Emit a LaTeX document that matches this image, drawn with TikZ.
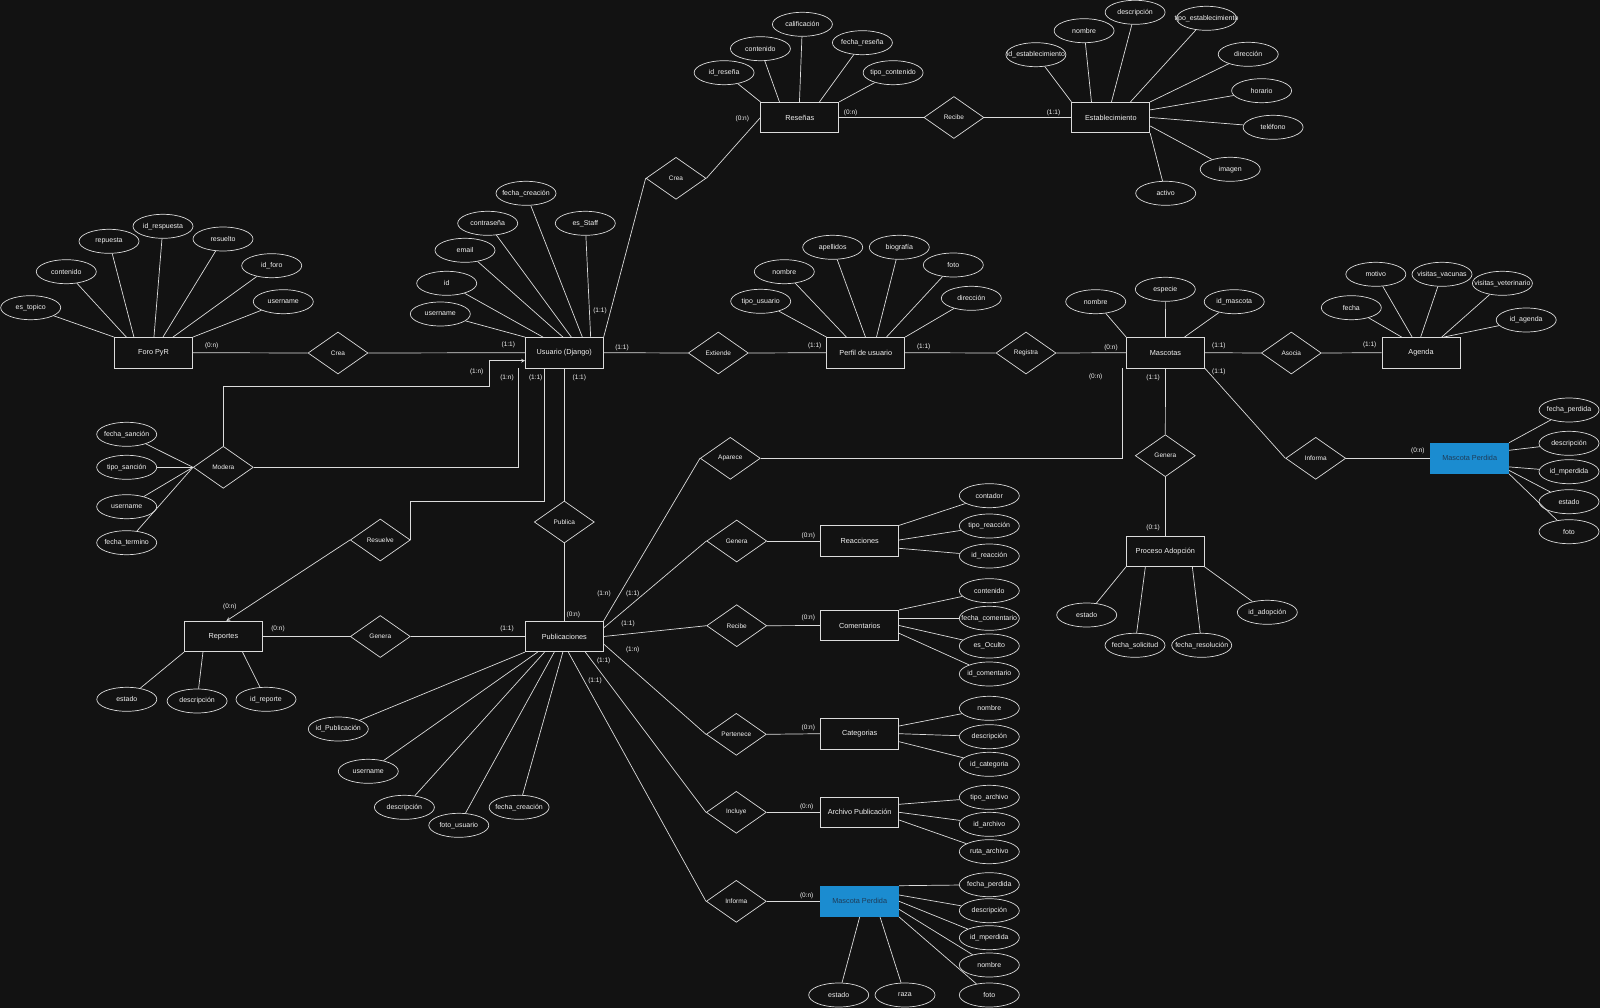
\documentclass[tikz,border=0pt]{standalone}
\usepackage{fontspec}
\setmainfont{Liberation Sans}
\usepackage{tikz}
\usepackage{xcolor}
\usetikzlibrary{shapes.geometric}
\definecolor{fondo}{HTML}{121212}
\definecolor{linea}{HTML}{DCDCDC}
\definecolor{texto}{HTML}{F2F2F2}
\definecolor{azul}{HTML}{1B8CD0}
\definecolor{azultxt}{HTML}{1E3B57}
\tikzstyle{entidad} = [rectangle, draw=linea, fill=fondo, text=texto, minimum width=78pt, minimum height=30.5pt, inner sep=1pt, font=\fontsize{7.3}{8}\selectfont]
\tikzstyle{perdida} = [entidad, fill=azul, draw=azul, text=azultxt]
\tikzstyle{atrib} = [ellipse, draw=linea, fill=fondo, text=texto, minimum width=60pt, minimum height=24pt, inner xsep=-12pt, inner ysep=0pt, font=\fontsize{7}{8}\selectfont]
\tikzstyle{rel} = [diamond, draw=linea, fill=fondo, text=texto, minimum width=60pt, minimum height=42pt, inner sep=0pt, font=\fontsize{6.5}{7}\selectfont]
\tikzstyle{card} = [text=texto, inner sep=0pt, font=\fontsize{6.5}{7}\selectfont]

\begin{document}
\begin{tikzpicture}[x=1pt,y=-1pt,>=stealth,color=linea,line width=0.7pt]
  \fill[fondo] (0,0) rectangle (1600,1008);
  \useasboundingbox (0,0) rectangle (1600,1008);

  \node[entidad] (Foro) at (153.5,352.7) {Foro PyR};
  \node[entidad] (Usuario) at (564.3,352.7) {Usuario (Django)};
  \node[entidad] (Perfil) at (865.8,352.7) {Perfil de usuario};
  \node[entidad] (Mascotas) at (1165.5,352.7) {Mascotas};
  \node[entidad] (Agenda) at (1421,352.7) {Agenda};
  \node[entidad] (Resenas) at (799.8,117.5) {Reseñas};
  \node[entidad] (Establ) at (1110.8,117.5) {Establecimiento};
  \node[perdida] (MPerdidaA) at (1469.7,458.3) {Mascota Perdida};
  \node[entidad] (Adopcion) at (1165.3,551.3) {Proceso Adopción};
  \node[entidad] (Reportes) at (223.4,636.5) {Reportes};
  \node[entidad] (Publicaciones) at (564.3,636.5) {Publicaciones};
  \node[entidad] (Reacciones) at (859.7,541) {Reacciones};
  \node[entidad] (Comentarios) at (859.7,625.5) {Comentarios};
  \node[entidad] (Categorias) at (859.7,733.7) {Categorias};
  \node[entidad] (Archivo) at (859.7,812.3) {Archivo Publicación};
  \node[perdida] (MPerdidaB) at (859.7,901.3) {Mascota Perdida};

  \node[rel] (CreaF) at (338,353) {Crea};
  \node[rel] (Modera) at (223.3,467.3) {Modera};
  \node[rel] (CreaR) at (676,178.3) {Crea};
  \node[rel] (RecibeE) at (953.9,117.5) {Recibe};
  \node[rel] (Extiende) at (718.3,353) {Extiende};
  \node[rel] (Registra) at (1026,353) {Registra};
  \node[rel] (Asocia) at (1291.3,353) {Asocia};
  \node[rel] (GeneraA) at (1165.3,455.7) {Genera};
  \node[rel] (InformaA) at (1315.7,458.3) {Informa};
  \node[rel] (Aparece) at (730.3,458.3) {Aparece};
  \node[rel] (GeneraR) at (736.7,541) {Genera};
  \node[rel] (RecibeC) at (736.7,625.7) {Recibe};
  \node[rel] (Pertenece) at (736.3,734.3) {Pertenece};
  \node[rel] (Incluye) at (736.3,812.3) {Incluye};
  \node[rel] (InformaB) at (736.3,901.3) {Informa};
  \node[rel] (Publica) at (564.3,522) {Publica};
  \node[rel] (Resuelve) at (380.3,540) {Resuelve};
  \node[rel] (GeneraP) at (380.3,636.5) {Genera};

  \node[atrib] (Fo_estopico) at (30.7,307.7) {es\_topico};
  \node[atrib] (Fo_contenido) at (66.3,271.7) {contenido};
  \node[atrib] (Fo_repuesta) at (109,241.3) {repuesta};
  \node[atrib] (Fo_idresp) at (163,226.3) {id\_respuesta};
  \node[atrib] (Fo_resuelto) at (223,239) {resuelto};
  \node[atrib] (Fo_idforo) at (271.7,265.7) {id\_foro};
  \node[atrib] (Fo_username) at (283.3,301.7) {username};

  \node[atrib] (Mo_fsancion) at (126.7,434.3) {fecha\_sanción};
  \node[atrib] (Mo_tsancion) at (126.7,467.3) {tipo\_sanción};
  \node[atrib] (Mo_username) at (126.7,506.7) {username};
  \node[atrib] (Mo_ftermino) at (126.7,542.7) {fecha\_termino};

  \node[atrib] (Us_username) at (440.3,314) {username};
  \node[atrib] (Us_id) at (446.7,283.3) {id};
  \node[atrib] (Us_email) at (465,250.3) {email};
  \node[atrib] (Us_clave) at (487.7,223.3) {contraseña};
  \node[atrib] (Us_fcreacion) at (526,193.3) {fecha\_creación};
  \node[atrib] (Us_staff) at (585.3,223.3) {es\_Staff};

  \node[atrib] (Pe_tipo) at (760.7,301.3) {tipo\_usuario};
  \node[atrib] (Pe_nombre) at (784.3,271.7) {nombre};
  \node[atrib] (Pe_apellidos) at (832.7,247.3) {apellidos};
  \node[atrib] (Pe_biografia) at (899.3,247.3) {biografía};
  \node[atrib] (Pe_foto) at (953.3,265) {foto};
  \node[atrib] (Pe_direccion) at (971.3,298.3) {dirección};

  \node[atrib] (Re_id) at (724.1,72.7) {id\_reseña};
  \node[atrib] (Re_contenido) at (760.4,48.7) {contenido};
  \node[atrib] (Re_calif) at (802.4,24.3) {calificación};
  \node[atrib] (Re_fecha) at (862.4,42.7) {fecha\_reseña};
  \node[atrib] (Re_tipo) at (893.1,72.7) {tipo\_contenido};

  \node[atrib] (Es_id) at (1035.9,54.7) {id\_establecimiento};
  \node[atrib] (Es_nombre) at (1084.1,30.7) {nombre};
  \node[atrib] (Es_desc) at (1135.1,12.3) {descripción};
  \node[atrib] (Es_tipo) at (1206.5,18.3) {tipo\_establecimiento};
  \node[atrib] (Es_direccion) at (1248.2,54.3) {dirección};
  \node[atrib] (Es_horario) at (1261.6,90.7) {horario};
  \node[atrib] (Es_telefono) at (1273.1,127.3) {teléfono};
  \node[atrib] (Es_imagen) at (1230.2,169.3) {imagen};
  \node[atrib] (Es_activo) at (1165.7,193.3) {activo};

  \node[atrib] (Ma_nombre) at (1095.7,301.7) {nombre};
  \node[atrib] (Ma_especie) at (1165.3,289.3) {especie};
  \node[atrib] (Ma_id) at (1234.2,301.7) {id\_mascota};

  \node[atrib] (Ag_fecha) at (1351.3,307.7) {fecha};
  \node[atrib] (Ag_motivo) at (1375.8,274.3) {motivo};
  \node[atrib] (Ag_vacunas) at (1442,274.3) {visitas\_vacunas};
  \node[atrib] (Ag_veter) at (1502.4,283.3) {visitas\_veterinario};
  \node[atrib] (Ag_id) at (1526.2,320) {id\_agenda};

  \node[atrib] (MA_fecha) at (1569,410) {fecha\_perdida};
  \node[atrib] (MA_desc) at (1569,443.3) {descripción};
  \node[atrib] (MA_id) at (1569,471.7) {id\_mperdida};
  \node[atrib] (MA_estado) at (1569,501.7) {estado};
  \node[atrib] (MA_foto) at (1569,531.7) {foto};

  \node[atrib] (PA_estado) at (1086.7,615) {estado};
  \node[atrib] (PA_fsolic) at (1135,645.3) {fecha\_solicitud};
  \node[atrib] (PA_fresol) at (1201.7,645.3) {fecha\_resolución};
  \node[atrib] (PA_id) at (1267.3,612.3) {id\_adopción};

  \node[atrib] (Rc_contador) at (989.3,495.7) {contador};
  \node[atrib] (Rc_tipo) at (989.3,526) {tipo\_reacción};
  \node[atrib] (Rc_id) at (989.3,556) {id\_reacción};

  \node[atrib] (Co_contenido) at (989.3,590.7) {contenido};
  \node[atrib] (Co_fecha) at (989.3,618.3) {fecha\_comentario};
  \node[atrib] (Co_oculto) at (989.3,646) {es\_Oculto};
  \node[atrib] (Co_id) at (989.3,674) {id\_comentario};

  \node[atrib] (Ca_nombre) at (989.3,708.3) {nombre};
  \node[atrib] (Ca_desc) at (989.3,736.7) {descripción};
  \node[atrib] (Ca_id) at (989.3,764.3) {id\_categoria};

  \node[atrib] (Ar_tipo) at (989.3,797.3) {tipo\_archivo};
  \node[atrib] (Ar_id) at (989.3,824.3) {id\_archivo};
  \node[atrib] (Ar_ruta) at (989.3,851.7) {ruta\_archivo};

  \node[atrib] (MB_fecha) at (989.3,884.7) {fecha\_perdida};
  \node[atrib] (MB_desc) at (989.3,910.7) {descripción};
  \node[atrib] (MB_id) at (989.3,937.7) {id\_mperdida};
  \node[atrib] (MB_nombre) at (989.3,965) {nombre};
  \node[atrib] (MB_foto) at (989.3,995) {foto};
  \node[atrib] (MB_estado) at (838.7,995) {estado};
  \node[atrib] (MB_raza) at (905,995) {raza};

  \node[atrib] (Rp_estado) at (126.8,699.3) {estado};
  \node[atrib] (Rp_desc) at (197.1,701) {descripción};
  \node[atrib] (Rp_id) at (266,699.3) {id\_reporte};

  \node[atrib] (Pu_id) at (338.3,729) {id\_Publicación};
  \node[atrib] (Pu_username) at (368.3,771.3) {username};
  \node[atrib] (Pu_desc) at (404.4,807.3) {descripción};
  \node[atrib] (Pu_foto) at (458.8,825.3) {foto\_usuario};
  \node[atrib] (Pu_fcreacion) at (519.1,807.3) {fecha\_creación};

  \path (Fo_estopico) edge (Foro.north west);
  \path (Fo_contenido) edge ([xshift=12.2pt]Foro.north west);
  \path (Fo_repuesta) edge ([xshift=19.8pt]Foro.north west);
  \path (Fo_idresp) edge ([xshift=39.8pt]Foro.north west);
  \path (Fo_resuelto) edge ([xshift=48.8pt]Foro.north west);
  \path (Fo_idforo) edge ([xshift=58.8pt]Foro.north west);
  \path (Fo_username) edge (Foro.north east);

  \path (Mo_fsancion) edge (Modera.west);
  \path (Mo_tsancion) edge (Modera.west);
  \path (Mo_username) edge (Modera.west);
  \path (Mo_ftermino) edge (Modera.west);

  \path (Us_username) edge (Usuario.north west);
  \path (Us_id) edge ([xshift=18pt]Usuario.north west);
  \path (Us_email) edge ([xshift=38pt]Usuario.north west);
  \path (Us_clave) edge ([xshift=46.4pt]Usuario.north west);
  \path (Us_fcreacion) edge ([xshift=57.4pt]Usuario.north west);
  \path (Us_staff) edge ([xshift=65.7pt]Usuario.north west);

  \path (Pe_tipo) edge (Perfil.north west);
  \path (Pe_nombre) edge ([xshift=20pt]Perfil.north west);
  \path (Pe_apellidos) edge ([xshift=39pt]Perfil.north west);
  \path (Pe_biografia) edge ([xshift=50pt]Perfil.north west);
  \path (Pe_foto) edge ([xshift=60pt]Perfil.north west);
  \path (Pe_direccion) edge (Perfil.north east);

  \path (Re_id) edge (Resenas.north west);
  \path (Re_contenido) edge ([xshift=19pt]Resenas.north west);
  \path (Re_calif) edge ([xshift=39pt]Resenas.north west);
  \path (Re_fecha) edge ([xshift=59pt]Resenas.north west);
  \path (Re_tipo) edge (Resenas.north east);

  \path (Es_id) edge (Establ.north west);
  \path (Es_nombre) edge ([xshift=20pt]Establ.north west);
  \path (Es_desc) edge ([xshift=40pt]Establ.north west);
  \path (Es_tipo) edge ([xshift=59pt]Establ.north west);
  \path (Es_direccion) edge (Establ.north east);
  \path (Es_horario) edge ([yshift=-8pt]Establ.north east);
  \path (Es_telefono) edge (Establ.east);
  \path (Es_imagen) edge ([yshift=-8.5pt]Establ.east);
  \path (Es_activo) edge (Establ.south east);

  \path (Ma_nombre) edge (Mascotas.north west);
  \path (Ma_especie) edge (Mascotas.north);
  \path (Ma_id) edge ([xshift=58.3pt]Mascotas.north west);

  \path (Ag_fecha) edge ([xshift=20pt]Agenda.north west);
  \path (Ag_motivo) edge ([xshift=30.5pt]Agenda.north west);
  \path (Ag_vacunas) edge ([xshift=39pt]Agenda.north west);
  \path (Ag_veter) edge ([xshift=60pt]Agenda.north west);
  \path (Ag_id) edge ([xshift=62pt]Agenda.north west);

  \path (MA_fecha) edge (MPerdidaA.north east);
  \path (MA_desc) edge ([yshift=-7.6pt]MPerdidaA.north east);
  \path (MA_id) edge ([yshift=7pt]MPerdidaA.south east);
  \path (MA_estado) edge ([yshift=3.5pt]MPerdidaA.south east);
  \path (MA_foto) edge (MPerdidaA.south east);

  \path (PA_estado) edge (Adopcion.south west);
  \path (PA_fsolic) edge ([xshift=19.4pt]Adopcion.south west);
  \path (PA_fresol) edge ([xshift=66.4pt]Adopcion.south west);
  \path (PA_id) edge (Adopcion.south east);

  \path (Rc_contador) edge (Reacciones.north east);
  \path (Rc_tipo) edge ([yshift=1pt]Reacciones.east);
  \path (Rc_id) edge ([yshift=-7.3pt]Reacciones.east);

  \path (Co_contenido) edge (Comentarios.north east);
  \path (Co_fecha) edge ([yshift=7.2pt]Comentarios.east);
  \path (Co_oculto) edge (Comentarios.east);
  \path (Co_id) edge ([yshift=-7.8pt]Comentarios.east);

  \path (Ca_nombre) edge ([yshift=7.7pt]Categorias.east);
  \path (Ca_desc) edge (Categorias.east);
  \path (Ca_id) edge ([yshift=-8pt]Categorias.east);

  \path (Ar_tipo) edge ([yshift=8pt]Archivo.east);
  \path (Ar_id) edge (Archivo.east);
  \path (Ar_ruta) edge ([yshift=-7.7pt]Archivo.east);

  \path (MB_fecha) edge (MPerdidaB.north east);
  \path (MB_desc) edge ([yshift=6.3pt]MPerdidaB.east);
  \path (MB_id) edge (MPerdidaB.east);
  \path (MB_nombre) edge ([yshift=-8pt]MPerdidaB.east);
  \path (MB_foto) edge (MPerdidaB.south east);
  \path (MB_estado) edge (MPerdidaB.south);
  \path (MB_raza) edge ([xshift=20.3pt]MPerdidaB.south);

  \path (Rp_estado) edge (Reportes.south west);
  \path (Rp_desc) edge ([xshift=18.9pt]Reportes.south west);
  \path (Rp_id) edge ([xshift=58.5pt]Reportes.south west);

  \path (Pu_id) edge (Publicaciones.south west);
  \path (Pu_username) edge ([xshift=12.7pt]Publicaciones.south west);
  \path (Pu_desc) edge ([xshift=19.6pt]Publicaciones.south west);
  \path (Pu_foto) edge ([xshift=29.3pt]Publicaciones.south west);
  \path (Pu_fcreacion) edge ([xshift=37.9pt]Publicaciones.south west);

  \path (Foro.east) edge (CreaF.west);
  \path (CreaF.east) edge (Usuario.west);
  \path (Usuario.north east) edge (CreaR.west);
  \path (CreaR.east) edge (Resenas.west);
  \path (Resenas.east) edge (RecibeE.west);
  \path (RecibeE.east) edge (Establ.west);
  \path (Usuario.east) edge (Extiende.west);
  \path (Extiende.east) edge (Perfil.west);
  \path (Perfil.east) edge (Registra.west);
  \path (Registra.east) edge (Mascotas.west);
  \path (Mascotas.east) edge (Asocia.west);
  \path (Asocia.east) edge (Agenda.west);
  \path (Mascotas.south) edge (GeneraA.north);
  \path (GeneraA.south) edge (Adopcion.north);
  \path (Mascotas.south east) edge (InformaA.west);
  \path (InformaA.east) edge (MPerdidaA.west);
  \path (Usuario.south) edge (Publica.north);
  \path (Publica.south) edge (Publicaciones.north);
  \path (Reportes.east) edge (GeneraP.west);
  \path (GeneraP.east) edge (Publicaciones.west);
  \path (Publicaciones.north east) edge (Aparece.west);
  \path ([yshift=-7pt]Publicaciones.north east) edge (GeneraR.west);
  \path (GeneraR.east) edge (Reacciones.west);
  \path (Publicaciones.east) edge (RecibeC.west);
  \path (RecibeC.east) edge (Comentarios.west);
  \path ([yshift=-7.5pt]Publicaciones.east) edge (Pertenece.west);
  \path (Pertenece.east) edge (Categorias.west);
  \path ([xshift=-18.3pt]Publicaciones.south east) edge (Incluye.west);
  \path (Incluye.east) edge (Archivo.west);
  \path ([xshift=4pt]Publicaciones.south) edge (InformaB.west);
  \path (InformaB.east) edge (MPerdidaB.west);
  \path (Resuelve.west) edge[->] ([xshift=3pt]Reportes.north);

  \draw[->] (Modera.north) |- (489,386.7) |- ([yshift=-8pt]Usuario.west);
  \draw (Modera.east) -| ([xshift=-6.3pt]Usuario.south west);
  \draw ([xshift=-20pt]Usuario.south) -- ++(0,132.7) -| (Resuelve.east);
  \draw ([xshift=-4pt]Mascotas.south west) |- (Aparece.east);

  \node[card] (c1) at (211.7,345.7) {(0:n)};
  \node[card] (c2) at (508.3,345) {(1:1)};
  \node[card] (c3) at (476.7,371.7) {(1:n)};
  \node[card] (c4) at (507,377.7) {(1:n)};
  \node[card] (c5) at (535.7,377.7) {(1:1)};
  \node[card] (c6) at (579.3,377.7) {(1:1)};
  \node[card] (c7) at (600,310.7) {(1:1)};
  \node[card] (c8) at (622,347.7) {(1:1)};
  \node[card] (c9) at (742.3,118.7) {(0:n)};
  \node[card] (c10) at (850.6,112.7) {(0:n)};
  \node[card] (c11) at (1053.5,112.7) {(1:1)};
  \node[card] (c12) at (814.7,345.7) {(1:1)};
  \node[card] (c13) at (923.7,347.3) {(1:1)};
  \node[card] (c14) at (1111,347.7) {(0:n)};
  \node[card] (c15) at (1095.7,377.3) {(0:n)};
  \node[card] (c16) at (1153.1,378) {(1:1)};
  \node[card] (c17) at (1218.9,345.7) {(1:1)};
  \node[card] (c18) at (1218.9,371.7) {(1:1)};
  \node[card] (c19) at (1369.7,345) {(1:1)};
  \node[card] (c20) at (1417.9,451) {(0:n)};
  \node[card] (c21) at (1153.1,528) {(0:1)};
  \node[card] (c22) at (229.8,606.7) {(0:n)};
  \node[card] (c23) at (278,628.7) {(0:n)};
  \node[card] (c24) at (507,628.7) {(1:1)};
  \node[card] (c25) at (573.3,615.3) {(0:n)};
  \node[card] (c26) at (604,594) {(1:n)};
  \node[card] (c27) at (632.7,594) {(1:1)};
  \node[card] (c28) at (628,624.3) {(1:1)};
  \node[card] (c29) at (632.7,650.3) {(1:n)};
  \node[card] (c30) at (603.7,660.7) {(1:1)};
  \node[card] (c31) at (595,680.7) {(1:1)};
  \node[card] (c32) at (808.3,535.7) {(0:n)};
  \node[card] (c33) at (808.3,618.3) {(0:n)};
  \node[card] (c34) at (808.3,728.3) {(0:n)};
  \node[card] (c35) at (806.7,806.7) {(0:n)};
  \node[card] (c36) at (806.7,896) {(0:n)};
\end{tikzpicture}
\end{document}
